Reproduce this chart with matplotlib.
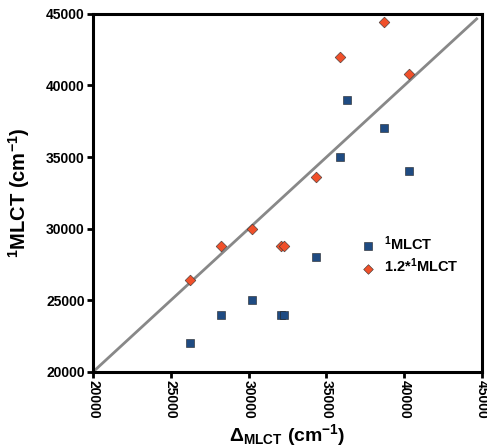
import matplotlib
matplotlib.use("Agg")
import matplotlib.pyplot as plt

plt.rcParams['font.family'] = ['Liberation Sans', 'DejaVu Sans']
plt.rcParams['font.weight'] = 'bold'
plt.rcParams['mathtext.fontset'] = 'custom'
plt.rcParams['mathtext.rm'] = 'Liberation Sans:bold'
plt.rcParams['mathtext.bf'] = 'Liberation Sans:bold'
plt.rcParams['mathtext.it'] = 'Liberation Sans:bold'
plt.rcParams['mathtext.default'] = 'bf'

# Delta_MLCT (cm-1) and measured 1MLCT energies
delta = [26200, 28200, 30200, 32100, 32300, 34300, 35900, 36300, 38700, 40300]
mlct = [22000, 24000, 25000, 24000, 24000, 28000, 35000, 39000, 37000, 34000]
# scaled 1MLCT (x1.2)
mlct_scaled = [26400, 28800, 30000, 28800, 28800, 33600, 42000, 46800, 44400, 40800]

# reference line
line_x = [20000, 44650]
line_y = [20000, 44650]

ticks = [20000, 25000, 30000, 35000, 40000, 45000]

fig = plt.figure(figsize=(4.87, 4.47), dpi=100)
ax = fig.add_axes([0.191, 0.168, 0.799, 0.801])

ax.plot(line_x, line_y, color='#888888', linewidth=2, zorder=1)
ax.scatter(delta, mlct, marker='s', s=36, color='#1f4b82', edgecolors='#222222',
           linewidths=0.4, label='$^{1}$MLCT', zorder=3)
ax.scatter(delta, mlct_scaled, marker='D', s=30, color='#f0502a', edgecolors='#333333',
           linewidths=0.4, label='1.2*$^{1}$MLCT', zorder=3)

ax.set_xlim(20000, 45000)
ax.set_ylim(20000, 45000)
ax.set_xticks(ticks)
ax.set_yticks(ticks)
ax.tick_params(axis='x', labelrotation=-90)
ax.tick_params(direction='out', length=4, width=2, labelsize=10, pad=2)
for lab in ax.get_xticklabels() + ax.get_yticklabels():
    lab.set_fontweight('bold')
for sp in ax.spines.values():
    sp.set_linewidth(2.2)

ax.set_xlabel(r'$\Delta_{\mathrm{MLCT}}$ (cm$^{-1}$)', fontsize=14, fontweight='bold', labelpad=2)
ax.set_ylabel(r'$^{1}$MLCT (cm$^{-1}$)', fontsize=14.5, fontweight='bold', labelpad=10)

leg = ax.legend(loc='upper left', bbox_to_anchor=(0.655, 0.40), frameon=False,
                fontsize=10.5, handletextpad=0.1, borderaxespad=0, labelspacing=0.25,
                markerscale=0.9)
for t in leg.get_texts():
    t.set_fontweight('bold')

fig.savefig('out.png', dpi=100)
